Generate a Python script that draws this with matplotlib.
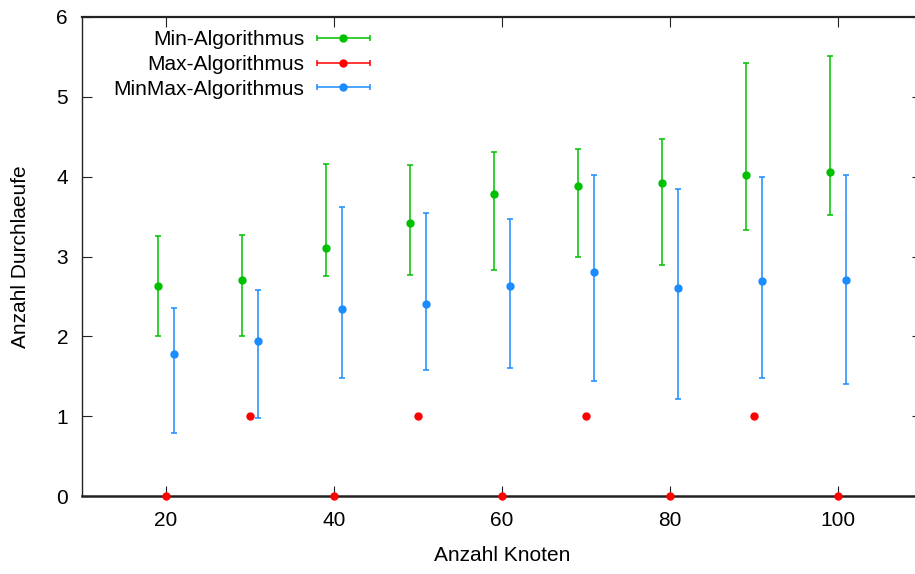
import numpy as np
import matplotlib
matplotlib.use("Agg")
import matplotlib.pyplot as plt
from matplotlib.legend_handler import HandlerErrorbar

plt.rcParams["font.family"] = ["Liberation Sans", "DejaVu Sans"]

# ---------------------------------------------
# DATA
# ---------------------------------------------
x_min    = [19, 29, 39, 49, 59, 69, 79, 89, 99]
min_mean = [2.63, 2.71, 3.11, 3.42, 3.78, 3.88, 3.92, 4.02, 4.06]
min_lo   = [2.00, 2.00, 2.76, 2.77, 2.83, 3.00, 2.89, 3.33, 3.52]
min_hi   = [3.26, 3.27, 4.16, 4.15, 4.31, 4.35, 4.47, 5.42, 5.51]

x_max    = [20, 30, 40, 50, 60, 70, 80, 90, 100]
max_mean = [0, 1, 0, 1, 0, 1, 0, 1, 0]

x_mm     = [21, 31, 41, 51, 61, 71, 81, 91, 101]
mm_mean  = [1.78, 1.94, 2.34, 2.41, 2.63, 2.81, 2.61, 2.69, 2.71]
mm_lo    = [0.79, 0.98, 1.48, 1.58, 1.60, 1.44, 1.21, 1.48, 1.40]
mm_hi    = [2.36, 2.58, 3.62, 3.55, 3.47, 4.02, 3.85, 4.00, 4.02]

labels = ["Min-Algorithmus", "Max-Algorithmus", "MinMax-Algorithmus"]

C_GREEN = "#00c000"
C_RED   = "#ff0000"
C_BLUE  = "#1a8cff"

FS = 15

# ---------------------------------------------
# PLOT
# ---------------------------------------------
fig = plt.figure(figsize=(9.15, 5.74), dpi=100)
ax = fig.add_axes([82 / 915, 1 - 496 / 574, (922 - 82) / 915, (496 - 17) / 574])

def yerr(mean, lo, hi):
    mean, lo, hi = map(np.asarray, (mean, lo, hi))
    return [mean - lo, hi - mean]

kw = dict(fmt="o", ms=5, elinewidth=1.1, capsize=2.2, capthick=1.1)
ax.errorbar(x_min, min_mean, yerr=yerr(min_mean, min_lo, min_hi), color=C_GREEN, **kw)
ax.plot(x_max, max_mean, "o", ms=5, color=C_RED, zorder=3, clip_on=False)
ax.errorbar(x_mm, mm_mean, yerr=yerr(mm_mean, mm_lo, mm_hi), color=C_BLUE, **kw)

# legend proxies drawn as horizontal error bars (gnuplot style)
proxies = [ax.errorbar([np.nan], [np.nan], xerr=[1], color=c, **kw)
           for c in (C_GREEN, C_RED, C_BLUE)]

leg = ax.legend(proxies, labels, loc="upper right",
                bbox_to_anchor=(370 / 915, 1 - 30 / 574), bbox_transform=fig.transFigure,
                frameon=False, markerfirst=False, fontsize=FS,
                handlelength=2.55, handletextpad=0.6, labelspacing=0.28,
                borderpad=0, borderaxespad=0,
                handler_map={type(proxies[0]): HandlerErrorbar(xerr_size=1.27)})
for t in leg.get_texts():
    t.set_ha("right")
leg._legend_box.align = "right"

ax.set_xlim(10, 110)
ax.set_ylim(0, 6)
ax.set_xticks([20, 40, 60, 80, 100])
ax.set_yticks(range(7))
ax.tick_params(direction="in", length=7, width=0.8, top=True, right=True,
               labelsize=FS, colors="#222222", labelcolor="black")
ax.tick_params(axis="x", pad=11)
ax.tick_params(axis="y", pad=10)
for s in ax.spines.values():
    s.set_color("#222222")
    s.set_linewidth(1.0)
ax.spines["bottom"].set_linewidth(1.8)
ax.spines["top"].set_linewidth(1.6)

ax.set_xlabel("Anzahl Knoten", fontsize=FS, labelpad=11)
ax.set_ylabel("Anzahl Durchlaeufe", fontsize=FS, labelpad=19)

plt.savefig("out.png", dpi=100)
